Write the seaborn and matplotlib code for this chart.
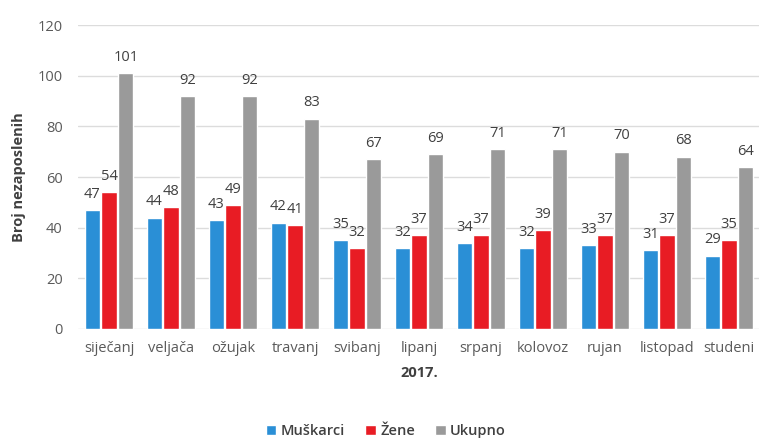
import pandas as pd
import seaborn as sns
import matplotlib.pyplot as plt

months = ['siječanj', 'veljača', 'ožujak', 'travanj', 'svibanj', 'lipanj',
          'srpanj', 'kolovoz', 'rujan', 'listopad', 'studeni']
muskarci = [47, 44, 43, 42, 35, 32, 34, 32, 33, 31, 29]
zene = [54, 48, 49, 41, 32, 37, 37, 39, 37, 37, 35]
ukupno = [101, 92, 92, 83, 67, 69, 71, 71, 70, 68, 64]
series = ['Muškarci', 'Žene', 'Ukupno']
colors = ['#2a8fd6', '#e81c24', '#9a9a9a']

df = pd.DataFrame({
    'mjesec': months * 3,
    'serija': [s for s in series for _ in months],
    'vrijednost': muskarci + zene + ukupno,
})

sns.set_style('white')
plt.rcParams['font.family'] = ['Open Sans', 'DejaVu Sans']

fig = plt.figure(figsize=(7.59, 4.41), dpi=100)
ax = fig.add_axes([78 / 759, 0.254, 682 / 759, 0.689])

sns.barplot(data=df, x='mjesec', y='vrijednost', hue='serija', order=months,
            hue_order=series, palette=colors, width=0.81, gap=0.1,
            saturation=1, ax=ax, zorder=3)

for cont in ax.containers:
    ax.bar_label(cont, padding=6, fontsize=10.5, color='#404040')

ax.set_xlim(-0.5, 10.5)
ax.set_ylim(0, 120)
ax.set_yticks(range(0, 121, 20))
ax.yaxis.grid(True, color='#dcdcdc', linewidth=1, zorder=0)
sns.despine(ax=ax, left=True, bottom=True)
ax.tick_params(axis='both', length=0, labelsize=10.5, labelcolor='#5a5a5a')
ax.tick_params(axis='x', pad=9)
ax.tick_params(axis='y', pad=11)
ax.set_xlabel('2017.', fontsize=10.5, fontweight='bold', color='#404040', labelpad=7)
ax.set_ylabel('Broj nezaposlenih', fontsize=10.5, fontweight='bold', color='#404040', labelpad=8)

ax.legend(loc='center', bbox_to_anchor=(386 / 759, 0.022), bbox_transform=fig.transFigure,
          ncol=3, frameon=False, prop={'size': 10.5, 'weight': 'semibold'},
          handlelength=0.7, handleheight=0.7, handletextpad=0.3,
          columnspacing=1.4, labelcolor='#404040')

plt.savefig('out.png', dpi=100)
